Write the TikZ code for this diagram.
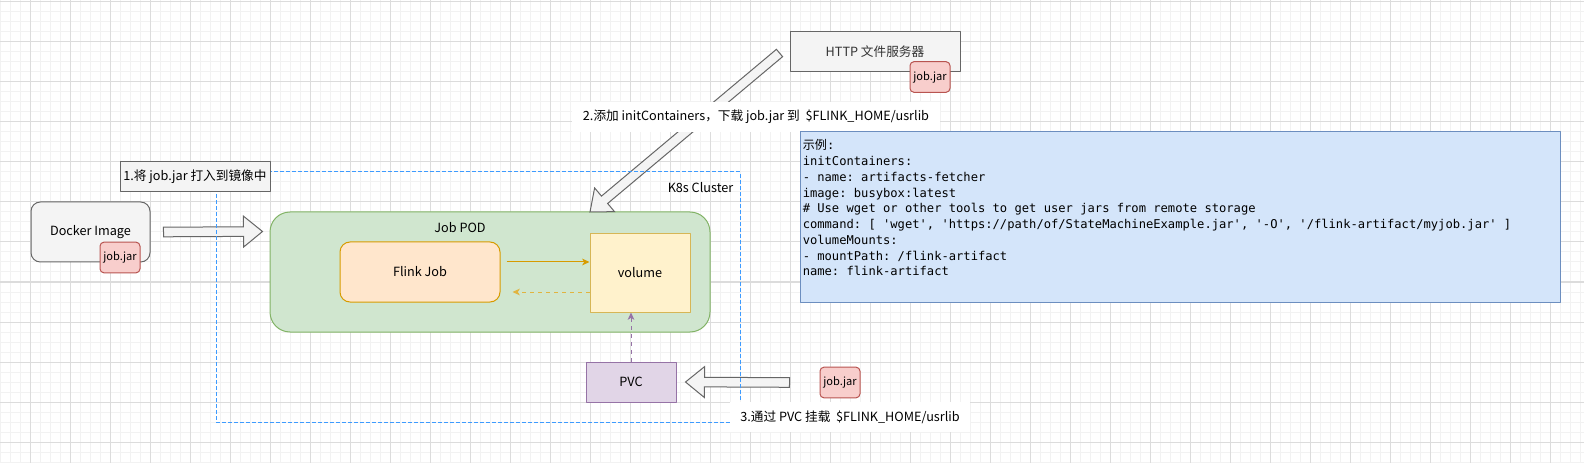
\documentclass[tikz,border=0pt]{standalone}
\usepackage{fontspec}
\setmainfont{Noto Sans CJK SC}
\setmonofont{DejaVu Sans Mono}
\newfontfamily\cjk{Noto Sans CJK SC}
\usetikzlibrary{calc,positioning,arrows.meta}

\definecolor{gridmajor}{HTML}{DCDCDC}
\definecolor{gridminor}{HTML}{F2F2F2}
\definecolor{grayfill}{HTML}{F4F4F4}
\definecolor{grayline}{HTML}{666666}
\definecolor{jarfill}{HTML}{F8CECC}
\definecolor{jarline}{HTML}{B85450}
\definecolor{podfill}{HTML}{D0E6CF}
\definecolor{podline}{HTML}{82B366}
\definecolor{flinkfill}{HTML}{FFE6CC}
\definecolor{flinkline}{HTML}{D79B00}
\definecolor{volfill}{HTML}{FFF2CC}
\definecolor{volline}{HTML}{D6B656}
\definecolor{pvcfill}{HTML}{E1D5E7}
\definecolor{pvcline}{HTML}{9673A6}
\definecolor{codefill}{HTML}{D4E5FA}
\definecolor{codeline}{HTML}{6C8EBF}
\definecolor{clusterline}{HTML}{3D9BFF}
\definecolor{textgray}{HTML}{333333}

% outlined block arrow from #1 to #2
\newcommand{\fatarrow}[2]{%
  \coordinate (fa-base) at ($(#2)!14.25pt!(#1)$);
  \draw[fatline] ($(#1)!3.6pt!90:(#2)$) -- ($(fa-base)!3.6pt!90:(#2)$)
    -- ($(fa-base)!11.6pt!90:(#2)$) -- (#2) -- ($(fa-base)!11.6pt!-90:(#2)$)
    -- ($(fa-base)!3.6pt!-90:(#2)$) -- ($(#1)!3.6pt!-90:(#2)$) -- cycle;
}

\begin{document}
\begin{tikzpicture}[x=0.75pt,y=-0.75pt,line join=round,
  box/.style={draw,line width=0.75pt,inner sep=0pt,align=center,font=\fontsize{9.5}{11}\selectfont},
  dockerbox/.style={box,fill=grayfill,draw=grayline,rounded corners=7pt,minimum width=89.25pt,minimum height=45pt},
  jarbox/.style={box,fill=jarfill,draw=jarline,rounded corners=3pt,minimum width=30pt,minimum height=23pt,font=\fontsize{8.3}{10}\selectfont},
  notebox/.style={box,fill=grayfill,draw=grayline,minimum width=112.5pt,minimum height=22.5pt},
  plainnote/.style={box,draw=none,fill=white,minimum height=22.5pt},
  httpbox/.style={box,fill=grayfill,draw=grayline,text=textgray,minimum width=127.5pt,minimum height=30pt},
  podbox/.style={box,fill=podfill,draw=podline,rounded corners=15pt,minimum width=330pt,minimum height=90pt},
  flinkbox/.style={box,fill=flinkfill,draw=flinkline,rounded corners=7.5pt,minimum width=120pt,minimum height=45pt},
  volbox/.style={box,fill=volfill,draw=volline,minimum width=75pt,minimum height=58.5pt},
  pvcbox/.style={box,fill=pvcfill,draw=pvcline,minimum width=67.5pt,minimum height=30pt},
  clusterbox/.style={draw=clusterline,line width=0.75pt,dash pattern=on 3pt off 1.5pt,inner sep=0pt,minimum width=393pt,minimum height=187.5pt},
  codebox/.style={draw=codeline,fill=codefill,line width=0.75pt,inner sep=0pt,minimum width=570pt,minimum height=127.5pt},
  codetext/.style={inner sep=0pt,align=left,font=\ttfamily\fontsize{9.1}{11.8}\selectfont},
  tag/.style={inner sep=0pt,font=\fontsize{9.5}{11}\selectfont},
  fatline/.style={draw=grayline,fill=grayfill,line width=0.75pt,line join=miter},
  flow/.style={-{Stealth[length=5.5pt,width=5pt,inset=1.5pt]},line width=0.75pt}]

\useasboundingbox (0,0) rectangle (1584,463);
\fill[white] (0,0) rectangle (1584,463);

% grid
\foreach \gx in {0,10,...,1580} \draw[gridminor,line width=0.75pt] (\gx,0) -- (\gx,463);
\foreach \gy in {2,12,...,462} \draw[gridminor,line width=0.75pt] (0,\gy) -- (1584,\gy);
\foreach \gx in {30,70,...,1570} \draw[gridmajor,line width=0.75pt] (\gx,0) -- (\gx,463);
\foreach \gy in {2,42,...,442} \draw[gridmajor,line width=0.75pt] (0,\gy) -- (1584,\gy);

% nodes
\node[dockerbox] (docker) at (90.5,232) {Docker Image};
\node[jarbox] (jarA) at (120,257.5) {job.jar};
\node[httpbox] (http) at (875,52) {HTTP 文件服务器};
\node[jarbox] (jarB) at (930,77) {job.jar};

\coordinate (podArrowE) at (590,212);
\node[podbox] (pod) at (490,272) {};
\node[tag] (podtitle) at ($(pod.north)+(-30,16)$) {Job POD};
\node[flinkbox] (flink) at (420,272) {Flink Job};
\node[volbox] (volume) at (640,273) {volume};
\node[pvcbox] (pvc) at (631,382) {PVC};
\node[jarbox] (jarC) at (840,382.5) {job.jar};

% connectors
\draw[flow,flinkline] ($(flink.east)+(6,-10)$) coordinate (fs) -- (fs -| volume.west);
\draw[flow,flinkline!75,dashed] ($(volume.west)+(0,19)$) coordinate (vs) -- ($(vs -| flink.east)+(12,0)$);
\draw[flow,pvcline,dashed] (pvc.north) -- (pvc.north |- volume.south);

\coordinate (dockerArrowS) at ($(docker.east)+(13,0)$);
\coordinate (dockerArrowE) at ($(pod.north west)+(-7,20)$);
\fatarrow{dockerArrowS}{dockerArrowE}
\coordinate (httpArrowS) at ($(http.west)+(-10,1)$);
\fatarrow{httpArrowS}{podArrowE}
\coordinate (pvcArrowS) at ($(jarC.west)+(-30,0)$);
\coordinate (pvcArrowE) at ($(pvc.east)+(9,0)$);
\fatarrow{pvcArrowS}{pvcArrowE}

\node[clusterbox] (cluster) at (478,297) {};
\node[tag] (k8s) at ($(cluster.north east)+(-40,16)$) {K8s Cluster};

\node[notebox] (stepA) at (195,177) {1.将 job.jar 打入到镜像中};
\node[plainnote,minimum width=276pt] (stepB) at (756,117) {2.添加 initContainers，下载 job.jar 到~~\$FLINK\_HOME/usrlib};
\node[plainnote,minimum width=180pt] (stepC) at (850,417) {3.通过 PVC 挂载~~\$FLINK\_HOME/usrlib};

\node[codebox] (code) at (1180,217) {};
\node[codetext,anchor=north west] (codetxt) at ($(code.north west)+(3,8)$) {{\cjk 示例}:\\
initContainers:\\
- name: artifacts-fetcher\\
image: busybox:latest\\
\# Use wget or other tools to get user jars from remote storage\\
command: [ 'wget', 'https://path/of/StateMachineExample.jar', '-O', '/flink-artifact/myjob.jar' ]\\
volumeMounts:\\
- mountPath: /flink-artifact\\
name: flink-artifact};

\end{tikzpicture}
\end{document}
